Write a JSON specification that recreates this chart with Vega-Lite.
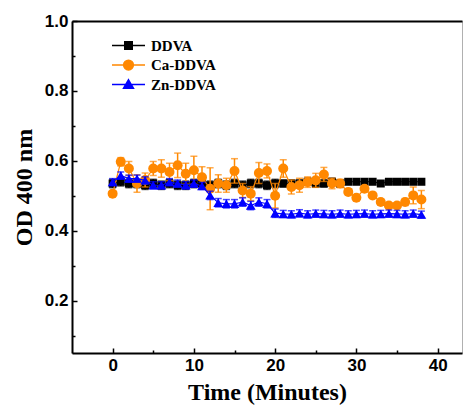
{
  "$schema": "https://vega.github.io/schema/vega-lite/v6.json",
  "width": 390,
  "height": 332,
  "autosize": {"type": "none"},
  "padding": {"left": 72, "top": 21, "right": 2, "bottom": 55},
  "config": {
    "view": {"stroke": "#b0b0b0", "strokeWidth": 1},
    "axis": {
      "grid": false,
      "domainColor": "black",
      "domainWidth": 2,
      "tickColor": "black",
      "tickWidth": 1.5,
      "labelFont": "Liberation Sans",
      "labelFontWeight": "bold",
      "labelFontSize": 17,
      "labelColor": "black",
      "labelFlush": false,
      "labelOverlap": false,
      "titleFont": "Liberation Serif",
      "titleFontWeight": "bold",
      "titleFontSize": 24,
      "titleColor": "black"
    },
    "legend": {
      "orient": "none",
      "legendX": 48,
      "legendY": 16,
      "symbolSize": 225,
      "symbolStrokeWidth": 1.5,
      "symbolOpacity": 1,
      "rowPadding": 2.5,
      "labelOffset": 14,
      "labelFont": "Liberation Serif",
      "labelFontWeight": "bold",
      "labelFontSize": 15,
      "labelColor": "black",
      "padding": 0
    }
  },
  "data": {
    "values": [
      {"t": 0, "s": "DDVA", "v": 0.535, "e": 0.012},
      {"t": 1, "s": "DDVA", "v": 0.540, "e": 0.012},
      {"t": 2, "s": "DDVA", "v": 0.535, "e": 0.012},
      {"t": 3, "s": "DDVA", "v": 0.535, "e": 0.012},
      {"t": 4, "s": "DDVA", "v": 0.530, "e": 0.012},
      {"t": 5, "s": "DDVA", "v": 0.535, "e": 0.012},
      {"t": 6, "s": "DDVA", "v": 0.530, "e": 0.012},
      {"t": 7, "s": "DDVA", "v": 0.535, "e": 0.012},
      {"t": 8, "s": "DDVA", "v": 0.530, "e": 0.012},
      {"t": 9, "s": "DDVA", "v": 0.530, "e": 0.012},
      {"t": 10, "s": "DDVA", "v": 0.535, "e": 0.012},
      {"t": 11, "s": "DDVA", "v": 0.535, "e": 0.012},
      {"t": 12, "s": "DDVA", "v": 0.530, "e": 0.012},
      {"t": 13, "s": "DDVA", "v": 0.535, "e": 0.012},
      {"t": 14, "s": "DDVA", "v": 0.530, "e": 0.012},
      {"t": 15, "s": "DDVA", "v": 0.535, "e": 0.012},
      {"t": 16, "s": "DDVA", "v": 0.530, "e": 0.012},
      {"t": 17, "s": "DDVA", "v": 0.535, "e": 0.012},
      {"t": 18, "s": "DDVA", "v": 0.535, "e": 0.012},
      {"t": 19, "s": "DDVA", "v": 0.530, "e": 0.012},
      {"t": 20, "s": "DDVA", "v": 0.535, "e": 0.012},
      {"t": 21, "s": "DDVA", "v": 0.535, "e": 0.010},
      {"t": 22, "s": "DDVA", "v": 0.535, "e": 0.010},
      {"t": 23, "s": "DDVA", "v": 0.535, "e": 0.010},
      {"t": 24, "s": "DDVA", "v": 0.540, "e": 0.010},
      {"t": 25, "s": "DDVA", "v": 0.535, "e": 0.010},
      {"t": 26, "s": "DDVA", "v": 0.535, "e": 0.010},
      {"t": 27, "s": "DDVA", "v": 0.540, "e": 0.010},
      {"t": 28, "s": "DDVA", "v": 0.535, "e": 0.010},
      {"t": 29, "s": "DDVA", "v": 0.540, "e": 0.006},
      {"t": 30, "s": "DDVA", "v": 0.540, "e": 0.006},
      {"t": 31, "s": "DDVA", "v": 0.540, "e": 0.006},
      {"t": 32, "s": "DDVA", "v": 0.540, "e": 0.006},
      {"t": 33, "s": "DDVA", "v": 0.535, "e": 0.006},
      {"t": 34, "s": "DDVA", "v": 0.540, "e": 0.006},
      {"t": 35, "s": "DDVA", "v": 0.540, "e": 0.006},
      {"t": 36, "s": "DDVA", "v": 0.540, "e": 0.006},
      {"t": 37, "s": "DDVA", "v": 0.540, "e": 0.006},
      {"t": 38, "s": "DDVA", "v": 0.540, "e": 0.006},
      {"t": 0, "s": "Ca-DDVA", "v": 0.506, "e": 0.008},
      {"t": 1, "s": "Ca-DDVA", "v": 0.597, "e": 0.012},
      {"t": 2, "s": "Ca-DDVA", "v": 0.578, "e": 0.020},
      {"t": 3, "s": "Ca-DDVA", "v": 0.535, "e": 0.025},
      {"t": 4, "s": "Ca-DDVA", "v": 0.545, "e": 0.020},
      {"t": 5, "s": "Ca-DDVA", "v": 0.578, "e": 0.020},
      {"t": 6, "s": "Ca-DDVA", "v": 0.578, "e": 0.025},
      {"t": 7, "s": "Ca-DDVA", "v": 0.568, "e": 0.025},
      {"t": 8, "s": "Ca-DDVA", "v": 0.587, "e": 0.035},
      {"t": 9, "s": "Ca-DDVA", "v": 0.563, "e": 0.030},
      {"t": 10, "s": "Ca-DDVA", "v": 0.573, "e": 0.040},
      {"t": 11, "s": "Ca-DDVA", "v": 0.553, "e": 0.030},
      {"t": 12, "s": "Ca-DDVA", "v": 0.520, "e": 0.060},
      {"t": 13, "s": "Ca-DDVA", "v": 0.535, "e": 0.025},
      {"t": 14, "s": "Ca-DDVA", "v": 0.530, "e": 0.020},
      {"t": 15, "s": "Ca-DDVA", "v": 0.571, "e": 0.035},
      {"t": 16, "s": "Ca-DDVA", "v": 0.515, "e": 0.020},
      {"t": 17, "s": "Ca-DDVA", "v": 0.506, "e": 0.020},
      {"t": 18, "s": "Ca-DDVA", "v": 0.565, "e": 0.030},
      {"t": 19, "s": "Ca-DDVA", "v": 0.571, "e": 0.020},
      {"t": 20, "s": "Ca-DDVA", "v": 0.500, "e": 0.035},
      {"t": 21, "s": "Ca-DDVA", "v": 0.578, "e": 0.025},
      {"t": 22, "s": "Ca-DDVA", "v": 0.525, "e": 0.020},
      {"t": 23, "s": "Ca-DDVA", "v": 0.530, "e": 0.020},
      {"t": 24, "s": "Ca-DDVA", "v": 0.539, "e": 0.015},
      {"t": 25, "s": "Ca-DDVA", "v": 0.544, "e": 0.020},
      {"t": 26, "s": "Ca-DDVA", "v": 0.561, "e": 0.020},
      {"t": 27, "s": "Ca-DDVA", "v": 0.535, "e": 0.015},
      {"t": 28, "s": "Ca-DDVA", "v": 0.535, "e": 0.012},
      {"t": 29, "s": "Ca-DDVA", "v": 0.511, "e": 0.008},
      {"t": 30, "s": "Ca-DDVA", "v": 0.494, "e": 0.008},
      {"t": 31, "s": "Ca-DDVA", "v": 0.520, "e": 0.008},
      {"t": 32, "s": "Ca-DDVA", "v": 0.501, "e": 0.008},
      {"t": 33, "s": "Ca-DDVA", "v": 0.482, "e": 0.008},
      {"t": 34, "s": "Ca-DDVA", "v": 0.472, "e": 0.008},
      {"t": 35, "s": "Ca-DDVA", "v": 0.472, "e": 0.008},
      {"t": 36, "s": "Ca-DDVA", "v": 0.482, "e": 0.010},
      {"t": 37, "s": "Ca-DDVA", "v": 0.501, "e": 0.024},
      {"t": 38, "s": "Ca-DDVA", "v": 0.489, "e": 0.026},
      {"t": 0, "s": "Zn-DDVA", "v": 0.539, "e": 0.010},
      {"t": 1, "s": "Zn-DDVA", "v": 0.558, "e": 0.010},
      {"t": 2, "s": "Zn-DDVA", "v": 0.549, "e": 0.010},
      {"t": 3, "s": "Zn-DDVA", "v": 0.549, "e": 0.010},
      {"t": 4, "s": "Zn-DDVA", "v": 0.544, "e": 0.010},
      {"t": 5, "s": "Zn-DDVA", "v": 0.530, "e": 0.010},
      {"t": 6, "s": "Zn-DDVA", "v": 0.530, "e": 0.010},
      {"t": 7, "s": "Zn-DDVA", "v": 0.539, "e": 0.010},
      {"t": 8, "s": "Zn-DDVA", "v": 0.535, "e": 0.010},
      {"t": 9, "s": "Zn-DDVA", "v": 0.530, "e": 0.010},
      {"t": 10, "s": "Zn-DDVA", "v": 0.535, "e": 0.010},
      {"t": 11, "s": "Zn-DDVA", "v": 0.528, "e": 0.010},
      {"t": 12, "s": "Zn-DDVA", "v": 0.501, "e": 0.012},
      {"t": 13, "s": "Zn-DDVA", "v": 0.480, "e": 0.012},
      {"t": 14, "s": "Zn-DDVA", "v": 0.477, "e": 0.012},
      {"t": 15, "s": "Zn-DDVA", "v": 0.477, "e": 0.012},
      {"t": 16, "s": "Zn-DDVA", "v": 0.482, "e": 0.012},
      {"t": 17, "s": "Zn-DDVA", "v": 0.472, "e": 0.012},
      {"t": 18, "s": "Zn-DDVA", "v": 0.482, "e": 0.012},
      {"t": 19, "s": "Zn-DDVA", "v": 0.477, "e": 0.012},
      {"t": 20, "s": "Zn-DDVA", "v": 0.450, "e": 0.012},
      {"t": 21, "s": "Zn-DDVA", "v": 0.448, "e": 0.010},
      {"t": 22, "s": "Zn-DDVA", "v": 0.447, "e": 0.010},
      {"t": 23, "s": "Zn-DDVA", "v": 0.450, "e": 0.010},
      {"t": 24, "s": "Zn-DDVA", "v": 0.447, "e": 0.010},
      {"t": 25, "s": "Zn-DDVA", "v": 0.449, "e": 0.010},
      {"t": 26, "s": "Zn-DDVA", "v": 0.448, "e": 0.010},
      {"t": 27, "s": "Zn-DDVA", "v": 0.447, "e": 0.010},
      {"t": 28, "s": "Zn-DDVA", "v": 0.449, "e": 0.010},
      {"t": 29, "s": "Zn-DDVA", "v": 0.447, "e": 0.010},
      {"t": 30, "s": "Zn-DDVA", "v": 0.448, "e": 0.010},
      {"t": 31, "s": "Zn-DDVA", "v": 0.449, "e": 0.010},
      {"t": 32, "s": "Zn-DDVA", "v": 0.447, "e": 0.010},
      {"t": 33, "s": "Zn-DDVA", "v": 0.448, "e": 0.010},
      {"t": 34, "s": "Zn-DDVA", "v": 0.449, "e": 0.010},
      {"t": 35, "s": "Zn-DDVA", "v": 0.448, "e": 0.010},
      {"t": 36, "s": "Zn-DDVA", "v": 0.447, "e": 0.010},
      {"t": 37, "s": "Zn-DDVA", "v": 0.449, "e": 0.010},
      {"t": 38, "s": "Zn-DDVA", "v": 0.446, "e": 0.010}
    ]
  },
  "resolve": {"axis": {"x": "independent", "y": "independent"}},
  "layer": [
    {
      "mark": {"type": "point", "opacity": 0},
      "encoding": {
        "x": {"field": "t", "type": "quantitative", "scale": {"domain": [-5, 43], "nice": false, "zero": false},
          "axis": {"orient": "bottom", "values": [0, 10, 20, 30, 40], "tickSize": -5, "labelPadding": 9, "title": "Time (Minutes)", "titlePadding": 7}},
        "y": {"field": "v", "type": "quantitative", "scale": {"domain": [0.05, 1.0], "nice": false, "zero": false},
          "axis": {"orient": "left", "values": [0.2, 0.4, 0.6, 0.8, 1.0], "format": ".1f", "tickSize": -5, "labelPadding": 9, "title": "OD 400 nm", "titlePadding": 8}}
      }
    },
    {
      "mark": {"type": "point", "opacity": 0},
      "encoding": {
        "x": {"field": "t", "type": "quantitative",
          "axis": {"orient": "top", "labels": false, "ticks": false, "title": null, "domainWidth": 2}},
        "y": {"field": "v", "type": "quantitative", "axis": null}
      }
    },
    {
      "mark": {"type": "point", "filled": true, "opacity": 0},
      "encoding": {
        "x": {"field": "t", "type": "quantitative",
          "axis": {"orient": "bottom", "values": [5, 15, 25, 35], "tickSize": -3, "labels": false, "domain": false, "title": null}},
        "y": {"field": "v", "type": "quantitative",
          "axis": {"orient": "left", "values": [0.1, 0.3, 0.5, 0.7, 0.9], "tickSize": -3, "labels": false, "domain": false, "title": null}},
        "fill": {"field": "s", "type": "nominal", "scale": {"domain": ["DDVA", "Ca-DDVA", "Zn-DDVA"], "range": ["#000000", "#ff8800", "#0000ff"]}, "legend": {"title": null}},
        "stroke": {"field": "s", "type": "nominal", "scale": {"domain": ["DDVA", "Ca-DDVA", "Zn-DDVA"], "range": ["#000000", "#ff8800", "#0000ff"]}, "legend": {"title": null}},
        "shape": {"field": "s", "type": "nominal", "scale": {"domain": ["DDVA", "Ca-DDVA", "Zn-DDVA"], "range": [
          "M-2.2,0H2.2M-0.5,-0.5H0.5V0.5H-0.5Z",
          "M-2.2,0H2.2M-0.65,0A0.65,0.65,0,1,0,0.65,0A0.65,0.65,0,1,0,-0.65,0Z",
          "M-2.2,0H2.2M0,-0.62L0.66,0.5L-0.66,0.5Z"
        ]}, "legend": {"title": null}}
      }
    },
    {
      "transform": [{"filter": "datum.s === 'DDVA'"}],
      "layer": [
        {"mark": {"type": "line", "strokeWidth": 1.2},
         "encoding": {"x": {"field": "t", "type": "quantitative", "axis": null}, "y": {"field": "v", "type": "quantitative", "axis": null},
           "color": {"field": "s", "type": "nominal", "scale": {"domain": ["DDVA", "Ca-DDVA", "Zn-DDVA"], "range": ["#000000", "#ff8800", "#0000ff"]}, "legend": null}}},
        {"mark": {"type": "errorbar", "ticks": {"size": 7}, "thickness": 1.5},
         "encoding": {"x": {"field": "t", "type": "quantitative", "axis": null}, "y": {"field": "v", "type": "quantitative", "axis": null}, "yError": {"field": "e"},
           "color": {"field": "s", "type": "nominal", "legend": null}}},
        {"mark": {"type": "point", "shape": "square", "filled": true, "size": 64, "opacity": 1},
         "encoding": {"x": {"field": "t", "type": "quantitative", "axis": null}, "y": {"field": "v", "type": "quantitative", "axis": null},
           "color": {"field": "s", "type": "nominal", "legend": null}}}
      ]
    },
    {
      "transform": [{"filter": "datum.s === 'Ca-DDVA'"}],
      "layer": [
        {"mark": {"type": "line", "strokeWidth": 1.2},
         "encoding": {"x": {"field": "t", "type": "quantitative", "axis": null}, "y": {"field": "v", "type": "quantitative", "axis": null},
           "color": {"field": "s", "type": "nominal", "legend": null}}},
        {"mark": {"type": "errorbar", "ticks": {"size": 7}, "thickness": 1.5},
         "encoding": {"x": {"field": "t", "type": "quantitative", "axis": null}, "y": {"field": "v", "type": "quantitative", "axis": null}, "yError": {"field": "e"},
           "color": {"field": "s", "type": "nominal", "legend": null}}},
        {"mark": {"type": "point", "shape": "circle", "filled": true, "size": 100, "opacity": 1},
         "encoding": {"x": {"field": "t", "type": "quantitative", "axis": null}, "y": {"field": "v", "type": "quantitative", "axis": null},
           "color": {"field": "s", "type": "nominal", "legend": null}}}
      ]
    },
    {
      "transform": [{"filter": "datum.s === 'Zn-DDVA'"}],
      "layer": [
        {"mark": {"type": "line", "strokeWidth": 1.2},
         "encoding": {"x": {"field": "t", "type": "quantitative", "axis": null}, "y": {"field": "v", "type": "quantitative", "axis": null},
           "color": {"field": "s", "type": "nominal", "legend": null}}},
        {"mark": {"type": "errorbar", "ticks": {"size": 7}, "thickness": 1.5},
         "encoding": {"x": {"field": "t", "type": "quantitative", "axis": null}, "y": {"field": "v", "type": "quantitative", "axis": null}, "yError": {"field": "e"},
           "color": {"field": "s", "type": "nominal", "legend": null}}},
        {"mark": {"type": "point", "shape": "triangle-up", "filled": true, "size": 95, "opacity": 1},
         "encoding": {"x": {"field": "t", "type": "quantitative", "axis": null}, "y": {"field": "v", "type": "quantitative", "axis": null},
           "color": {"field": "s", "type": "nominal", "legend": null}}}
      ]
    }
  ]
}
